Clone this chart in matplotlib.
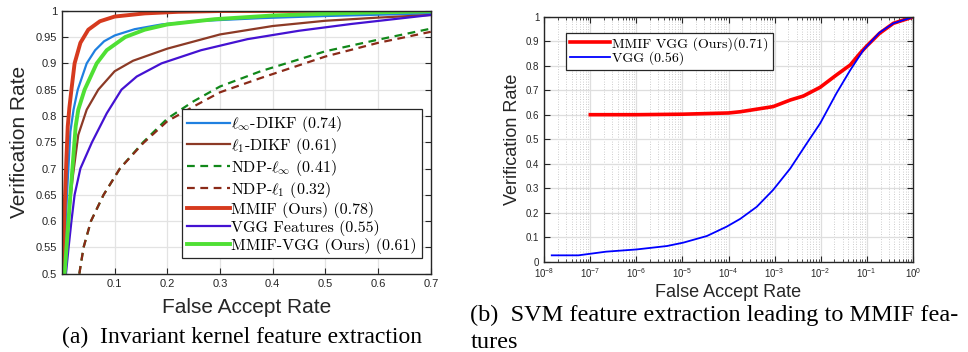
import matplotlib
matplotlib.use('Agg')
from matplotlib import pyplot as plt
from matplotlib.ticker import LogLocator, NullFormatter

plt.rcParams['mathtext.fontset'] = 'cm'
plt.rcParams['font.family'] = ['Liberation Sans', 'DejaVu Sans']
plt.rcParams['axes.unicode_minus'] = False

# ---- (a) invariant kernel feature extraction ----
fa_linf = [0.004, 0.0095, 0.016, 0.022, 0.030, 0.047, 0.063, 0.08, 0.10, 0.138, 0.189, 0.25, 0.377, 0.50, 0.70]
vr_linf = [0.50, 0.65, 0.77, 0.812, 0.85, 0.90, 0.925, 0.942, 0.953, 0.965, 0.974, 0.980, 0.986, 0.990, 0.995]

fa_l1 = [0.006, 0.012, 0.020, 0.031, 0.047, 0.069, 0.10, 0.135, 0.20, 0.30, 0.40, 0.50, 0.60, 0.70]
vr_l1 = [0.50, 0.60, 0.68, 0.764, 0.812, 0.85, 0.885, 0.905, 0.928, 0.955, 0.971, 0.981, 0.987, 0.992]

fa_ndp_inf = [0.033, 0.041, 0.055, 0.079, 0.110, 0.154, 0.20, 0.25, 0.30, 0.377, 0.50, 0.60, 0.70]
vr_ndp_inf = [0.50, 0.55, 0.60, 0.65, 0.70, 0.75, 0.795, 0.828, 0.856, 0.885, 0.923, 0.945, 0.966]

fa_ndp_1 = [0.033, 0.041, 0.055, 0.079, 0.110, 0.154, 0.20, 0.25, 0.30, 0.377, 0.50, 0.60, 0.70]
vr_ndp_1 = [0.50, 0.55, 0.60, 0.65, 0.70, 0.748, 0.790, 0.818, 0.845, 0.872, 0.913, 0.939, 0.960]

fa_mmif = [0.0015, 0.004, 0.006, 0.0085, 0.011, 0.014, 0.018, 0.024, 0.035, 0.050, 0.072, 0.10, 0.157, 0.22, 0.30, 0.70]
vr_mmif = [0.50, 0.60, 0.65, 0.72, 0.78, 0.815, 0.85, 0.90, 0.939, 0.964, 0.980, 0.989, 0.995, 0.998, 0.9995, 1.0]

fa_vgg = [0.0076, 0.0126, 0.018, 0.024, 0.035, 0.057, 0.085, 0.113, 0.142, 0.189, 0.264, 0.352, 0.45, 0.55, 0.70]
vr_vgg = [0.50, 0.55, 0.60, 0.65, 0.70, 0.75, 0.805, 0.85, 0.875, 0.90, 0.925, 0.946, 0.962, 0.975, 0.992]

fa_mmif_vgg = [0.005, 0.016, 0.026, 0.031, 0.043, 0.066, 0.085, 0.12, 0.157, 0.20, 0.29, 0.40, 0.55, 0.70]
vr_mmif_vgg = [0.50, 0.65, 0.78, 0.812, 0.85, 0.90, 0.925, 0.95, 0.964, 0.974, 0.984, 0.991, 0.996, 0.999]

# ---- (b) SVM feature extraction ----
far_svm = [1e-7, 1e-6, 1e-5, 1e-4, 1.8e-4, 9.3e-4, 2.2e-3, 4.2e-3, 9.8e-3, 2.2e-2, 4.4e-2, 7.2e-2, 0.1, 0.19, 0.38, 0.95, 1.0]
vr_svm = [0.600, 0.600, 0.602, 0.607, 0.612, 0.633, 0.66, 0.676, 0.712, 0.762, 0.803, 0.851, 0.88, 0.932, 0.973, 0.997, 1.0]

far_vgg = [1.45e-8, 5.5e-8, 2.2e-7, 1e-6, 4.6e-6, 1.05e-5, 3.4e-5, 9.1e-5, 1.8e-4, 4.1e-4, 9.3e-4, 2.2e-3, 5e-3, 9.8e-3, 2.2e-2, 4.4e-2, 8.5e-2, 0.19, 0.38, 0.95, 1.0]
vr_vgg_b = [0.026, 0.026, 0.041, 0.050, 0.064, 0.078, 0.105, 0.143, 0.175, 0.224, 0.293, 0.381, 0.483, 0.565, 0.687, 0.782, 0.864, 0.935, 0.973, 0.997, 1.0]

ytick_a = [0.5, 0.55, 0.6, 0.65, 0.7, 0.75, 0.8, 0.85, 0.9, 0.95, 1.0]
ytick_a_lab = ['0.5', '0.55', '0.6', '0.65', '0.7', '0.75', '0.8', '0.85', '0.9', '0.95', '1']
xtick_a = [0.1, 0.2, 0.3, 0.4, 0.5, 0.6, 0.7]
ytick_b = [0, 0.1, 0.2, 0.3, 0.4, 0.5, 0.6, 0.7, 0.8, 0.9, 1.0]
ytick_b_lab = ['0', '0.1', '0.2', '0.3', '0.4', '0.5', '0.6', '0.7', '0.8', '0.9', '1']

fig = plt.figure(figsize=(9.68, 3.52), dpi=100)

ink = '#262626'

ax1 = fig.add_axes([0.064, 0.2224, 0.381, 0.747])
ax1.plot(fa_linf, vr_linf, '-', color='#1f80e0', lw=1.6, label=r'$\ell_\infty$-DIKF (0.74)')
ax1.plot(fa_l1, vr_l1, '-', color='#8c3a26', lw=1.6, label=r'$\ell_1$-DIKF (0.61)')
ax1.plot(fa_ndp_inf, vr_ndp_inf, '--', color='#11881a', lw=1.6, dashes=(3.5, 2.5), label=r'NDP-$\ell_\infty$ (0.41)')
ax1.plot(fa_ndp_1, vr_ndp_1, '--', color='#8a2a18', lw=1.6, dashes=(3.5, 2.5), label=r'NDP-$\ell_1$ (0.32)')
ax1.plot(fa_mmif, vr_mmif, '-', color='#d63a1e', lw=2.8, label='MMIF (Ours) (0.78)')
ax1.plot(fa_vgg, vr_vgg, '-', color='#4412d2', lw=1.6, label='VGG Features (0.55)')
ax1.plot(fa_mmif_vgg, vr_mmif_vgg, '-', color='#4fe034', lw=2.8, label='MMIF-VGG (Ours) (0.61)')
ax1.set_xlim(0, 0.7)
ax1.set_ylim(0.5, 1.0)
ax1.set_xticks(xtick_a)
ax1.set_xticklabels([str(v) for v in xtick_a])
ax1.set_yticks(ytick_a)
ax1.set_yticklabels(ytick_a_lab)
ax1.grid(True, color='#e3e3e3', lw=0.9)
ax1.set_axisbelow(True)
ax1.tick_params(direction='in', top=True, right=True, labelsize=8, colors=ink, length=4)
for s in ax1.spines.values():
    s.set_color(ink)
    s.set_linewidth(1.0)
ax1.set_xlabel('False Accept Rate', fontsize=15, color=ink)
ax1.set_ylabel('Verification Rate', fontsize=15, color=ink)
ax1.xaxis.set_label_coords(0.5, -0.092)
ax1.yaxis.set_label_coords(-0.089, 0.5)
leg1 = ax1.legend(loc='lower right', bbox_to_anchor=(0.975, 0.058), borderaxespad=0,
                  prop={'family': 'cmr10', 'size': 11.5},
                  handlelength=2.7, handletextpad=0.1, labelspacing=0.12, borderpad=0.3,
                  fancybox=False, framealpha=1, edgecolor=ink)
leg1.get_frame().set_linewidth(0.9)

ax2 = fig.add_axes([0.5623, 0.2565, 0.3806, 0.6961])
ax2.plot(far_svm, vr_svm, '-', color='#ff0000', lw=2.6, label='MMIF VGG (Ours)(0.71)')
ax2.plot(far_vgg, vr_vgg_b, '-', color='#0000ff', lw=1.3, label='VGG (0.56)')
ax2.set_xscale('log')
ax2.set_xlim(1e-8, 1)
ax2.set_ylim(0, 1)
ax2.set_yticks(ytick_b)
ax2.set_yticklabels(ytick_b_lab)
ax2.xaxis.set_major_locator(LogLocator(base=10, numticks=12))
ax2.xaxis.set_minor_locator(LogLocator(base=10, subs=range(2, 10), numticks=12))
ax2.xaxis.set_minor_formatter(NullFormatter())
ax2.grid(True, which='major', color='#dedede', lw=0.9)
ax2.grid(True, which='minor', axis='x', color='#bdbdbd', lw=0.6, ls=(0, (1, 2)))
ax2.set_axisbelow(True)
ax2.tick_params(which='both', direction='in', top=True, right=True, labelsize=7, colors=ink)
ax2.tick_params(which='major', length=4)
ax2.tick_params(which='minor', length=2)
for s in ax2.spines.values():
    s.set_color(ink)
    s.set_linewidth(1.0)
ax2.set_xlabel('False Accept Rate', fontsize=13, color=ink)
ax2.set_ylabel('Verification Rate', fontsize=13, color=ink)
ax2.xaxis.set_label_coords(0.5, -0.091)
ax2.yaxis.set_label_coords(-0.063, 0.5)
leg2 = ax2.legend(loc='upper left', bbox_to_anchor=(0.059, 0.935), borderaxespad=0,
                  prop={'family': 'cmr10', 'size': 10},
                  handlelength=2.9, handletextpad=0.1, labelspacing=0.08, borderpad=0.3,
                  fancybox=False, framealpha=1, edgecolor=ink)
leg2.get_frame().set_linewidth(0.9)

fig.text(0.0645, 0.04, '(a)  Invariant kernel feature extraction', family='Liberation Serif', fontsize=17,
         ha='left', va='center')
fig.text(0.486, 0.105, '(b)  SVM feature extraction leading to MMIF fea-', family='Liberation Serif', fontsize=17.5,
         ha='left', va='center')
fig.text(0.486, 0.028, 'tures', family='Liberation Serif', fontsize=17.5, ha='left', va='center')

fig.savefig('out.png', dpi=100)
